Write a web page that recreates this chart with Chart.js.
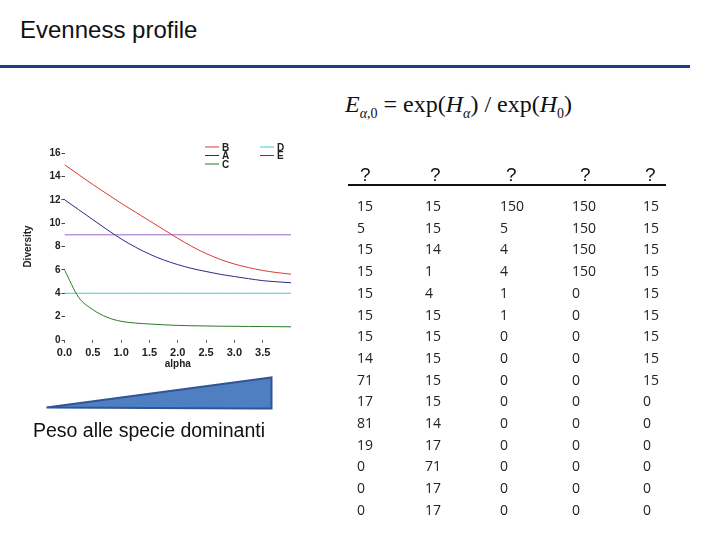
<!DOCTYPE html>
<html>
<head>
<meta charset="utf-8">
<script src="https://cdn.jsdelivr.net/npm/chart.js@4/dist/chart.umd.min.js"></script>
<style>
  body { margin: 0; width: 720px; height: 540px; background: #fff; position: relative; overflow: hidden; font-family: "Liberation Sans", Arial, sans-serif; }
  .abs { position: absolute; }
  #title { left: 20px; top: 16px; font-size: 24px; color: #111; }
  #rule { left: 0; top: 65px; width: 690px; height: 3px; background: #1f3d8c; }
  #formula { left: 345px; top: 91px; font-family: "Liberation Serif", serif; font-size: 24px; color: #111; white-space: nowrap; }
  #formula sub { font-size: 14px; }
  #chartBox { left: 20px; top: 140px; width: 284px; height: 235px; }
  #caption { left: 33px; top: 419px; font-size: 19.5px; color: #111; white-space: nowrap; }
  #hdrLine { left: 348px; top: 184px; width: 318px; height: 2px; background: #111; }
  .q { font-size: 19px; top: 164px; color: #111; }
  .cell { font-family: "Open Sans", "Liberation Sans", sans-serif; font-size: 14px; color: #222; line-height: 16px; }
</style>
</head>
<body>
<div id="title" class="abs">Evenness profile</div>
<div id="rule" class="abs"></div>
<div id="formula" class="abs"><i>E</i><sub><i>α</i>,0</sub> = exp(<i>H</i><sub><i>α</i></sub>) / exp(<i>H</i><sub>0</sub>)</div>
<div id="chartBox" class="abs"><canvas id="canvas"></canvas></div>
<svg class="abs" style="left:0;top:0" width="720" height="540">
  <polygon points="46.5,407.5 271.5,377.5 271.5,408.5" fill="#4f7fc0" stroke="#2f5597" stroke-width="2"/>
</svg>
<div id="caption" class="abs">Peso alle specie dominanti</div>
<div id="hdrLine" class="abs"></div>
<div id="table"></div>
<script>
// curves
const alpha = [0, 0.25, 0.5, 0.75, 1, 1.25, 1.5, 1.75, 2, 2.25, 2.5, 2.75, 3, 3.25, 3.5, 3.75, 4];
const divA = [12, 11.15, 10.3, 9.45, 8.65, 7.95, 7.35, 6.85, 6.45, 6.12, 5.86, 5.62, 5.43, 5.25, 5.08, 4.98, 4.9];
const divB = [15, 14.15, 13.3, 12.5, 11.7, 10.95, 10.2, 9.45, 8.7, 8.0, 7.4, 6.9, 6.5, 6.2, 5.95, 5.77, 5.63];
const divC = [6, 3.65, 2.6, 1.95, 1.6, 1.45, 1.37, 1.3, 1.25, 1.22, 1.2, 1.18, 1.17, 1.16, 1.15, 1.14, 1.13];
const divD = [4, 4, 4, 4, 4, 4, 4, 4, 4, 4, 4, 4, 4, 4, 4, 4, 4];
const divE = [9, 9, 9, 9, 9, 9, 9, 9, 9, 9, 9, 9, 9, 9, 9, 9, 9];
const xTicks = [0, 0.5, 1, 1.5, 2, 2.5, 3, 3.5];
const yTicks = [0, 2, 4, 6, 8, 10, 12, 14, 16];

// abundance table on the right
const colHeaders = ["?", "?", "?", "?", "?"];
const col1 = [15, 5, 15, 15, 15, 15, 15, 14, 71, 17, 81, 19, 0, 0, 0];
const col2 = [15, 15, 14, 1, 4, 15, 15, 15, 15, 15, 14, 17, 71, 17, 17];
const col3 = [150, 5, 4, 4, 1, 1, 0, 0, 0, 0, 0, 0, 0, 0, 0];
const col4 = [150, 150, 150, 150, 0, 0, 0, 0, 0, 0, 0, 0, 0, 0, 0];
const col5 = [15, 15, 15, 15, 15, 15, 15, 15, 15, 0, 0, 0, 0, 0, 0];

const colLeft = [357, 425, 500, 572, 643];
const qLeft = [360, 430, 506, 580, 645];
const tbl = document.getElementById("table");
colHeaders.forEach((h, i) => {
  const d = document.createElement("div");
  d.className = "abs q";
  d.style.left = qLeft[i] + "px";
  d.textContent = h;
  tbl.appendChild(d);
});
[col1, col2, col3, col4, col5].forEach((col, i) => {
  col.forEach((v, r) => {
    const d = document.createElement("div");
    d.className = "abs cell";
    d.style.left = colLeft[i] + "px";
    d.style.top = (198 + r * 21.7) + "px";
    d.textContent = v;
    tbl.appendChild(d);
  });
});

const pts = (ys) => alpha.map((a, i) => ({ x: a, y: ys[i] }));
const line = (label, ys, color) => ({
  label, data: pts(ys), borderColor: color, borderWidth: 1,
  pointRadius: 0, cubicInterpolationMode: "monotone", fill: false
});

// two-column legend in the upper right, like the original plot
const legendOrder = [["B", "A", "C"], ["D", "E"]];
const legendColors = { A: "#2a2a8c", B: "#d83a3a", C: "#2a7a2a", D: "#3ccfd0", E: "#7a2a8a" };
const cornerLegend = {
  id: "cornerLegend",
  afterDraw(chart) {
    const ctx = chart.ctx, a = chart.chartArea;
    ctx.save();
    ctx.font = "bold 10px 'Liberation Sans', Arial";
    ctx.textBaseline = "middle";
    legendOrder.forEach((col, c) => {
      const x0 = a.right - 86 + c * 55;
      col.forEach((lab, r) => {
        const y = a.top - 6 + r * 8.5;
        ctx.strokeStyle = legendColors[lab];
        ctx.lineWidth = 1;
        ctx.beginPath(); ctx.moveTo(x0, y); ctx.lineTo(x0 + 14, y); ctx.stroke();
        ctx.fillStyle = "#222";
        ctx.fillText(lab, x0 + 17, y + 1);
      });
    });
    ctx.restore();
  }
};

const ctx = document.getElementById("canvas").getContext("2d");
new Chart(ctx, {
  type: "line",
  data: {
    datasets: [
      line("A", divA, "#2a2a8c"),
      line("B", divB, "#d83a3a"),
      line("C", divC, "#2a7a2a"),
      line("D", divD, "#3ccfd0"),
      line("E", divE, "#9a66c8")
    ]
  },
  options: {
    responsive: true,
    maintainAspectRatio: false,
    animation: false,
    layout: { padding: { top: 13, right: 13, left: 0, bottom: 0 } },
    plugins: { legend: { display: false }, tooltip: { enabled: false } },
    scales: {
      x: {
        type: "linear", min: 0, max: 4,
        afterBuildTicks: (s) => { s.ticks = xTicks.map(v => ({ value: v })); },
        afterFit: (s) => { s.height = 35; },
        grid: { drawOnChartArea: false, drawTicks: true, tickLength: 3, color: "#666" },
        border: { display: false },
        ticks: { autoSkip: false, maxRotation: 0, padding: 3, color: "#222",
          font: { family: "'Liberation Sans', Arial", size: 11, weight: "bold" },
          callback: (v) => Number(v).toFixed(1) },
        title: { display: true, text: "alpha", color: "#222", padding: { top: 0, bottom: 5 },
          font: { family: "'Liberation Sans', Arial", size: 10, weight: "bold" } }
      },
      y: {
        min: 0, max: 16,
        afterBuildTicks: (s) => { s.ticks = yTicks.map(v => ({ value: v })); },
        afterFit: (s) => { s.width = 44.5; },
        grid: { drawOnChartArea: false, drawTicks: true, tickLength: 3, color: "#444" },
        border: { display: false },
        ticks: { autoSkip: false, padding: 1, color: "#222",
          font: { family: "'Liberation Sans', Arial", size: 10, weight: "bold" } },
        title: { display: true, text: "Diversity", color: "#222", padding: { top: 2, bottom: 0 },
          font: { family: "'Liberation Sans', Arial", size: 10, weight: "bold" } }
      }
    }
  },
  plugins: [cornerLegend]
});
</script>
</body>
</html>
